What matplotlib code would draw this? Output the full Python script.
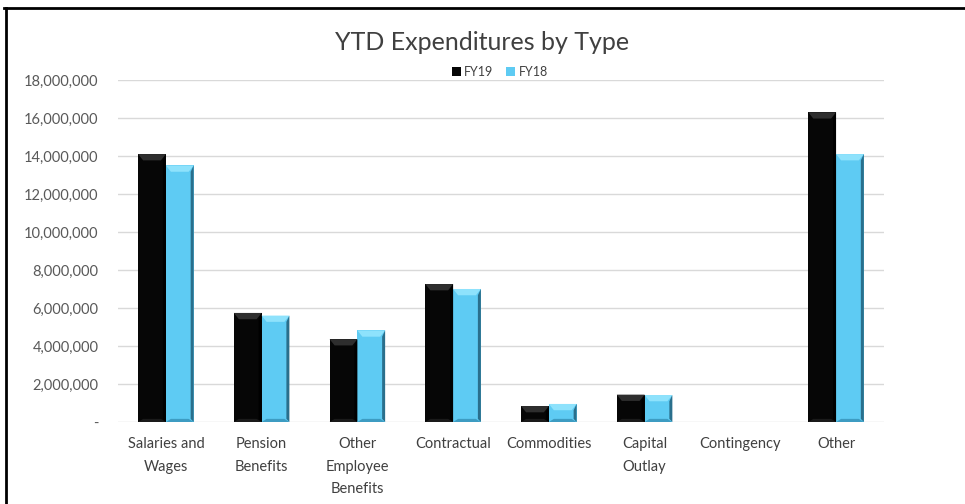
import numpy as np
import matplotlib
matplotlib.use("Agg")
import matplotlib.pyplot as plt
from matplotlib.patches import Polygon
from matplotlib.lines import Line2D
from matplotlib.ticker import FuncFormatter

plt.rcParams['font.family'] = ['Lato', 'DejaVu Sans']

categories = ['Salaries and\nWages', 'Pension\nBenefits', 'Other\nEmployee\nBenefits',
              'Contractual', 'Commodities', 'Capital\nOutlay', 'Contingency', 'Other']
fy19 = [14_100_000, 5_740_000, 4_360_000, 7_260_000, 840_000, 1_440_000, 0, 16_300_000]
fy18 = [13_500_000, 5_600_000, 4_820_000, 7_000_000, 950_000, 1_420_000, 0, 14_100_000]
series_names = ['FY19', 'FY18']

fig = plt.figure(figsize=(9.65, 5.04), dpi=100)
ax = fig.add_axes([0.1223, 0.1627, 0.7937, 0.6786])

x = np.arange(len(categories))
w = 0.29
bars19 = ax.bar(x - w / 2, fy19, w, color='#060606', zorder=3, label=series_names[0])
bars18 = ax.bar(x + w / 2, fy18, w, color='#5ecbf3', zorder=3, label=series_names[1])


def bevel(bars, top_col, side_col, bot_col):
    # fake the beveled look: lighter top chevron, darker right strip
    dy = 330_000
    for p in bars:
        bx, bw, bh = p.get_x(), p.get_width(), p.get_height()
        if bh <= 0:
            continue
        d = bw * 0.18
        t = min(dy, bh / 2)
        ax.add_patch(Polygon([(bx, bh), (bx + bw, bh), (bx + bw - d, bh - t), (bx + d, bh - t)],
                             closed=True, color=top_col, zorder=4, lw=0))
        ax.add_patch(Polygon([(bx + bw, bh), (bx + bw, 0), (bx + bw - d * 0.6, t * 0.5),
                              (bx + bw - d * 0.6, bh - t)],
                             closed=True, color=side_col, zorder=4, lw=0))
        ax.add_patch(Polygon([(bx, 0), (bx + bw, 0), (bx + bw - d, t * 0.5), (bx + d, t * 0.5)],
                             closed=True, color=bot_col, zorder=4, lw=0))


bevel(bars19, '#2e2e2e', '#000000', '#1a1a1a')
bevel(bars18, '#8ee2fc', '#2a6f8c', '#3d9cc2')

ax.set_ylim(0, 18_000_000)
ax.set_xlim(-0.5, len(categories) - 0.5)
ax.set_yticks(np.arange(0, 18_000_001, 2_000_000))
ax.yaxis.set_major_formatter(FuncFormatter(lambda v, _: '-' if v == 0 else f'{v:,.0f}'))
ax.yaxis.grid(True, color='#d9d9d9', lw=1, zorder=0)
ax.set_axisbelow(True)
for s in ax.spines.values():
    s.set_visible(False)
ax.tick_params(axis='y', length=0, pad=14, labelsize=10.5, labelcolor='#595959')
ax.set_xticks(x)
ax.set_xticklabels(categories, fontsize=10.5, color='#404040', linespacing=1.75)
ax.tick_params(axis='x', length=0, pad=11)

fig.text(0.5, 0.915, 'YTD Expenditures by Type', ha='center', va='center',
         fontsize=18, color='#404040')
fig.legend(handles=[bars19, bars18], labels=series_names, loc='center',
           bbox_to_anchor=(0.518, 0.857), ncol=2, frameon=False, fontsize=9,
           handlelength=0.7, handleheight=0.7, handletextpad=0.3, columnspacing=1.0,
           labelcolor='#404040')

# frame lines on the top and left edges
fig.add_artist(Line2D([0.004, 1.0], [0.984, 0.984], color='black', lw=2, transform=fig.transFigure))
fig.add_artist(Line2D([0.006, 0.006], [0.0, 0.984], color='black', lw=2, transform=fig.transFigure))

fig.savefig('out.png', dpi=100)
